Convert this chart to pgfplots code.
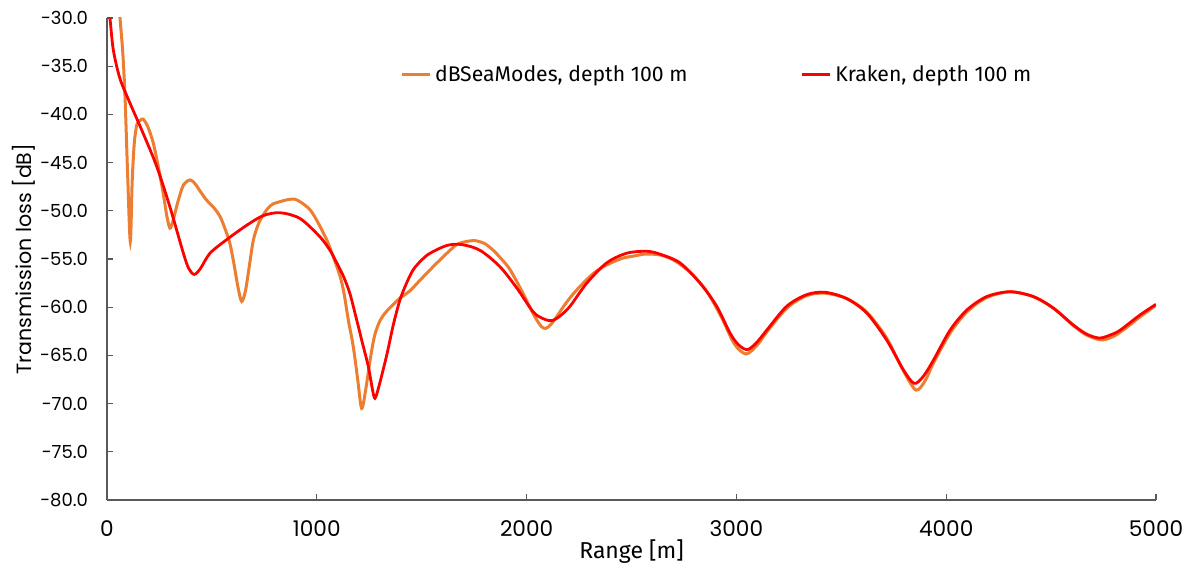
\documentclass[border=0pt]{standalone}
\usepackage{fontspec}
\setmainfont{Poppins}
\newfontfamily\legendfont{Fira Sans}
\usepackage{pgfplots}
\pgfplotsset{compat=1.18}

\definecolor{dbsea}{HTML}{ED7D31}
\definecolor{kraken}{HTML}{FF0000}
\definecolor{axisgray}{HTML}{595959}

\begin{document}
\begin{tikzpicture}
\begin{axis}[
  scale only axis,
  width=524.5pt, height=241pt,
  xmin=0, xmax=5000, ymin=-80, ymax=-30,
  clip=true,
  axis x line*=bottom, axis y line*=left,
  axis line style={axisgray, line width=0.7pt},
  tick align=inside,
  major tick length=3pt,
  tick style={axisgray, line width=0.6pt},
  xtick={0,1000,...,5000},
  ytick={-80,-75,...,-30},
  yticklabels={-80.0,-75.0,-70.0,-65.0,-60.0,-55.0,-50.0,-45.0,-40.0,-35.0,-30.0},
  /pgf/number format/assume math mode=true,
  x tick label style={/pgf/number format/1000 sep={}, font=\fontsize{10.8}{12}\selectfont, yshift=-7pt},
  y tick label style={font=\fontsize{9}{11}\selectfont, xshift=-6pt},
  xlabel={Range [m]},
  ylabel={Transmission loss [dB]},
  xlabel style={at={(axis description cs:0.5,0)}, anchor=center, yshift=-26pt, font=\legendfont\fontsize{11.5}{13}\selectfont},
  ylabel style={at={(axis description cs:-0.0795,0.5)}, anchor=center, font=\fontsize{10.3}{12}\selectfont},
  legend columns=2,
  legend style={at={(0.279,0.882)}, anchor=west, draw=none, fill=none,
    font=\legendfont\fontsize{10.6}{12}\selectfont, inner sep=0pt,
    /tikz/every even column/.append style={column sep=54.5pt},
    nodes={inner xsep=2pt}},
  legend image code/.code={\draw[#1] (0pt,0pt) -- (14pt,0pt);},
]
\addplot[dbsea, line width=1.5pt, smooth, tension=0.5] coordinates {
(50,-26) (62,-30) (75,-33.5) (86,-38.2) (98,-46) (111,-53.2) (120,-47) (130,-43)
(143,-41) (160,-40.6) (173,-40.5) (195,-41.3) (221,-43.0) (245,-45.5) (268,-48.2)
(285,-50.5) (300,-51.8) (315,-51) (340,-48.9) (365,-47.3) (396,-46.8) (420,-47.2)
(445,-48) (475,-48.9) (510,-49.7) (539,-50.6) (565,-52) (586,-53.4) (605,-55.5)
(625,-58) (642,-59.4) (660,-58.3) (678,-55.8) (698,-53.0) (725,-51.2) (761,-49.9)
(790,-49.3) (825,-49.05) (860,-48.85) (896,-48.8) (930,-49.2) (968,-49.9) (1000,-51)
(1047,-53.0) (1079,-54.8) (1111,-56.8) (1130,-58.6) (1150,-61.3) (1174,-64.1)
(1195,-67.5) (1214,-70.5) (1235,-68.3) (1254,-65.5) (1275,-63) (1301,-61.4)
(1330,-60.5) (1365,-59.7) (1400,-59) (1444,-58.3) (1492,-57.2) (1550,-55.9)
(1587,-55.1) (1630,-54.2) (1667,-53.5) (1710,-53.2) (1754,-53.1) (1800,-53.4)
(1841,-54.1) (1880,-55) (1921,-56.1) (1984,-58.6) (2020,-60.2) (2048,-61.3)
(2070,-62) (2091,-62.2) (2115,-61.8) (2143,-61.0) (2180,-59.8) (2223,-58.6)
(2270,-57.5) (2318,-56.5) (2365,-55.8) (2413,-55.3) (2460,-54.9) (2509,-54.7)
(2560,-54.5) (2600,-54.5) (2640,-54.6) (2700,-55.1) (2780,-56.4) (2860,-58.4)
(2930,-61.1) (2990,-63.8) (3046,-64.85) (3100,-63.9) (3144,-62.6) (3240,-60.1)
(3335,-58.8) (3422,-58.55) (3525,-59.1) (3621,-60.5) (3716,-63.2) (3796,-66.6)
(3856,-68.6) (3900,-67.6) (3939,-65.8) (4018,-62.7) (4098,-60.5) (4193,-59.0)
(4304,-58.4) (4415,-58.9) (4511,-60.1) (4606,-61.9) (4670,-62.9) (4740,-63.4)
(4800,-63.0) (4860,-62.1) (4924,-61.0) (5000,-59.8)
};
\addlegendentry{dBSeaModes, depth 100 m}
\addplot[kraken, line width=1.4pt, smooth, tension=0.5] coordinates {
(0,-28) (14,-30) (30,-33.3) (62,-36.3) (110,-38.85) (173,-42.0) (237,-45.4)
(300,-49.6) (364,-54.4) (390,-56) (416,-56.6) (445,-56) (491,-54.4) (570,-53.0)
(666,-51.5) (745,-50.5) (825,-50.2) (920,-50.8) (1015,-52.7) (1063,-54.1)
(1095,-55.4) (1127,-56.8) (1158,-58.6) (1190,-61.3) (1215,-63.5) (1246,-66.2)
(1265,-68.5) (1277,-69.45) (1295,-68.3) (1333,-65) (1365,-61.8) (1397,-59.2)
(1430,-57.4) (1460,-56.1) (1500,-55.1) (1540,-54.4) (1619,-53.6) (1690,-53.5)
(1778,-54.1) (1873,-55.8) (1953,-58.0) (2032,-60.5) (2080,-61.2) (2120,-61.4)
(2160,-60.9) (2207,-59.9) (2287,-57.5) (2382,-55.4) (2477,-54.4) (2572,-54.2)
(2636,-54.5) (2731,-55.4) (2827,-57.5) (2906,-59.9) (2970,-62.7) (3010,-63.9)
(3052,-64.4) (3095,-63.7) (3144,-62.4) (3240,-59.9) (3335,-58.7) (3422,-58.45)
(3525,-59.1) (3621,-60.6) (3716,-63.4) (3796,-66.5) (3847,-67.9) (3890,-67.2)
(3939,-65.5) (4018,-62.4) (4098,-60.3) (4193,-58.9) (4304,-58.4) (4415,-58.9)
(4511,-60.1) (4606,-61.85) (4670,-62.8) (4730,-63.2) (4780,-62.9) (4828,-62.4)
(4924,-60.8) (5000,-59.7)
};
\addlegendentry{Kraken, depth 100 m}
\end{axis}
\pgfresetboundingbox
\path ([xshift=-53.5pt,yshift=-38.5pt]current axis.south west)
  rectangle ([xshift=18.5pt,yshift=9pt]current axis.north east);
\end{tikzpicture}
\end{document}
